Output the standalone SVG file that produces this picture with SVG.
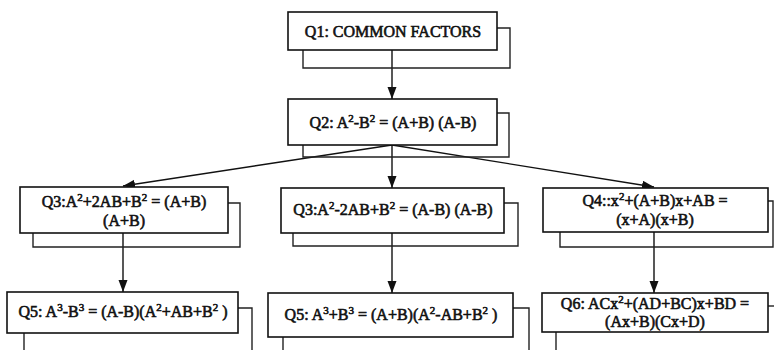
<svg xmlns="http://www.w3.org/2000/svg" width="774" height="350" viewBox="0 0 774 350">
  <style>
    .box { fill: #fff; stroke: #111; stroke-width: 1.6; }
    .shadow { fill: none; stroke: #222; stroke-width: 1.4; }
    .edge { fill: none; stroke: #111; stroke-width: 1.4; }
    .label { font-family: "Liberation Serif", "Times New Roman", serif; font-size: 16px; fill: #111; stroke: #111; stroke-width: 0.6; text-anchor: middle; }
    .sup { font-size: 11px; }
  </style>
  <defs>
    <marker id="arrow" markerUnits="userSpaceOnUse" markerWidth="13" markerHeight="10" refX="12" refY="4.5" orient="auto">
      <path d="M0,0 L12,4.5 L0,9 z" fill="#111"/>
    </marker>
  </defs>
  <rect width="774" height="350" fill="#fff"/>

  <!-- connectors -->
  <g id="connectors">
    <line class="edge" x1="392" y1="50" x2="392" y2="99" marker-end="url(#arrow)"/>
    <line class="edge" x1="392" y1="145" x2="123" y2="186" marker-end="url(#arrow)"/>
    <line class="edge" x1="392" y1="145" x2="392" y2="188" marker-end="url(#arrow)"/>
    <line class="edge" x1="392" y1="145" x2="654" y2="187" marker-end="url(#arrow)"/>
    <line class="edge" x1="123" y1="233" x2="123" y2="292" marker-end="url(#arrow)"/>
    <line class="edge" x1="392" y1="233" x2="392" y2="293" marker-end="url(#arrow)"/>
    <line class="edge" x1="654" y1="232" x2="654" y2="293" marker-end="url(#arrow)"/>
  </g>

  <!-- Q1 -->
  <g id="q1">
    <polyline class="shadow" points="497,28 510,28 510,68 303,68 303,50"/>
    <rect class="box" x="288" y="12" width="209" height="38"/>
    <text class="label" x="393" y="37">Q1: COMMON FACTORS</text>
  </g>

  <!-- Q2 -->
  <g id="q2">
    <polyline class="shadow" points="497,113 509,113 509,157 303,157 303,145"/>
    <rect class="box" x="288" y="99" width="209" height="46"/>
    <text class="label" x="393" y="128">Q2: A<tspan class="sup" dy="-6">2</tspan><tspan dy="6">-B</tspan><tspan class="sup" dy="-6">2</tspan><tspan dy="6"> = (A+B) (A-B)</tspan></text>
  </g>

  <!-- Q3 (left) -->
  <g id="q3a">
    <polyline class="shadow" points="228,203 240,203 240,247 33,247 33,233"/>
    <rect class="box" x="20" y="187" width="208" height="46"/>
    <text class="label" x="124" y="207">Q3:A<tspan class="sup" dy="-6">2</tspan><tspan dy="6">+2AB+B</tspan><tspan class="sup" dy="-6">2</tspan><tspan dy="6"> = (A+B)</tspan></text>
    <text class="label" x="124" y="226">(A+B)</text>
  </g>

  <!-- Q3 (middle) -->
  <g id="q3b">
    <polyline class="shadow" points="504,203 518,203 518,246 293,246 293,233"/>
    <rect class="box" x="281" y="188" width="223" height="45"/>
    <text class="label" x="393" y="215">Q3:A<tspan class="sup" dy="-6">2</tspan><tspan dy="6">-2AB+B</tspan><tspan class="sup" dy="-6">2</tspan><tspan dy="6"> = (A-B) (A-B)</tspan></text>
  </g>

  <!-- Q4 -->
  <g id="q4">
    <polyline class="shadow" points="768,201 773,201 773,247 560,247 560,232"/>
    <rect class="box" x="543" y="188" width="225" height="44"/>
    <text class="label" x="655" y="206">Q4::x<tspan class="sup" dy="-6">2</tspan><tspan dy="6">+(A+B)x+AB =</tspan></text>
    <text class="label" x="655" y="225">(x+A)(x+B)</text>
  </g>

  <!-- Q5 (left) -->
  <g id="q5a">
    <polyline class="shadow" points="238,308 252,308 252,352"/>
    <polyline class="shadow" points="24,333 24,352"/>
    <rect class="box" x="7" y="292" width="231" height="41"/>
    <text class="label" x="123" y="317">Q5: A<tspan class="sup" dy="-6">3</tspan><tspan dy="6">-B</tspan><tspan class="sup" dy="-6">3</tspan><tspan dy="6"> = (A-B)(A</tspan><tspan class="sup" dy="-6">2</tspan><tspan dy="6">+AB+B</tspan><tspan class="sup" dy="-6">2</tspan><tspan dy="6"> )</tspan></text>
  </g>

  <!-- Q5 (middle) -->
  <g id="q5b">
    <polyline class="shadow" points="513,308 529,308 529,352"/>
    <polyline class="shadow" points="283,337 283,352"/>
    <rect class="box" x="268" y="293" width="245" height="44"/>
    <text class="label" x="391" y="320">Q5: A<tspan class="sup" dy="-6">3</tspan><tspan dy="6">+B</tspan><tspan class="sup" dy="-6">3</tspan><tspan dy="6"> = (A+B)(A</tspan><tspan class="sup" dy="-6">2</tspan><tspan dy="6">-AB+B</tspan><tspan class="sup" dy="-6">2</tspan><tspan dy="6"> )</tspan></text>
  </g>

  <!-- Q6 -->
  <g id="q6">
    <polyline class="shadow" points="768,306 774,306"/>
    <polyline class="shadow" points="556,332 556,352"/>
    <rect class="box" x="542" y="293" width="226" height="39"/>
    <text class="label" x="655" y="309">Q6: ACx<tspan class="sup" dy="-6">2</tspan><tspan dy="6">+(AD+BC)x+BD =</tspan></text>
    <text class="label" x="655" y="327">(Ax+B)(Cx+D)</text>
  </g>
</svg>
